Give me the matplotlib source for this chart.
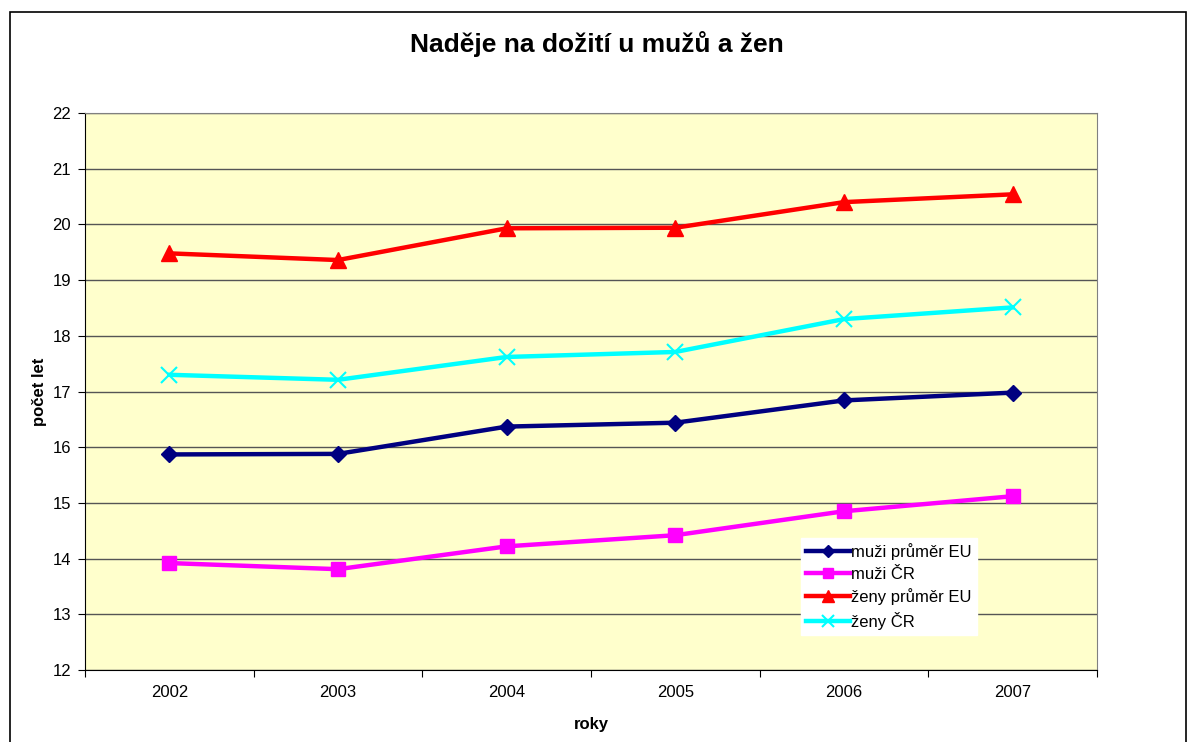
import matplotlib.pyplot as plt
from matplotlib.patches import Rectangle

plt.rcParams['font.family'] = ['Liberation Sans', 'DejaVu Sans']

years = ['2002', '2003', '2004', '2005', '2006', '2007']
muzi_eu = [15.87, 15.88, 16.37, 16.44, 16.84, 16.98]
muzi_cr = [13.92, 13.81, 14.22, 14.42, 14.85, 15.12]
zeny_eu = [19.48, 19.36, 19.93, 19.94, 20.40, 20.54]
zeny_cr = [17.30, 17.21, 17.62, 17.71, 18.30, 18.51]

fig = plt.figure(figsize=(11.93, 7.42), dpi=100)
# outer chart frame
fig.patches.append(Rectangle((10 / 1193, -0.05), 1176 / 1193, 1 - 12 / 742 + 0.05,
                             transform=fig.transFigure, fill=False,
                             edgecolor='black', linewidth=1.2))

ax = fig.add_axes([85 / 1193, 1 - 670 / 742, 1012 / 1193, 557 / 742])
ax.set_facecolor('#FFFFCC')

x = list(range(len(years)))
ax.plot(x, muzi_eu, color='#000080', lw=3.2, marker='D', ms=8, label='muži průměr EU', zorder=3)
ax.plot(x, muzi_cr, color='#FF00FF', lw=3.2, marker='s', ms=10, label='muži ČR', zorder=3)
ax.plot(x, zeny_eu, color='#FF0000', lw=3.2, marker='^', ms=11, label='ženy průměr EU', zorder=3)
ax.plot(x, zeny_cr, color='#00FFFF', lw=3.2, marker='x', ms=12, mew=1.5, label='ženy ČR', zorder=3)

ax.set_xlim(-0.5, 5.5)
ax.set_ylim(12, 22)
ax.set_yticks(range(12, 23))
ax.grid(axis='y', color='#555555', lw=1)
ax.set_axisbelow(True)

ax.set_xticks([i - 0.5 for i in range(7)])
ax.set_xticklabels([])
ax.set_xticks(x, minor=True)
ax.set_xticklabels(years, minor=True)
ax.tick_params(axis='x', which='minor', length=0, pad=11, labelsize=12)
ax.tick_params(axis='x', which='major', direction='out', length=5)
ax.tick_params(axis='y', direction='out', length=5, labelsize=12, pad=5)

for side in ['top', 'right']:
    ax.spines[side].set_color('#808080')
for side in ['left', 'bottom']:
    ax.spines[side].set_color('black')

ax.set_xlabel('roky', fontsize=12, fontweight='bold', labelpad=12)
ax.set_ylabel('počet let', fontsize=12, fontweight='bold', labelpad=4)
fig.suptitle('Naděje na dožití u mužů a žen', fontsize=19, fontweight='bold', y=0.958)

leg = ax.legend(loc='lower left', bbox_to_anchor=(0.708, 0.063), fontsize=12,
                frameon=True, fancybox=False, framealpha=1, edgecolor='white',
                handlelength=2.6, handletextpad=0.1, borderpad=0.3, labelspacing=0.4,
                borderaxespad=0, markerscale=0.75)

fig.savefig('out.png', dpi=100)
